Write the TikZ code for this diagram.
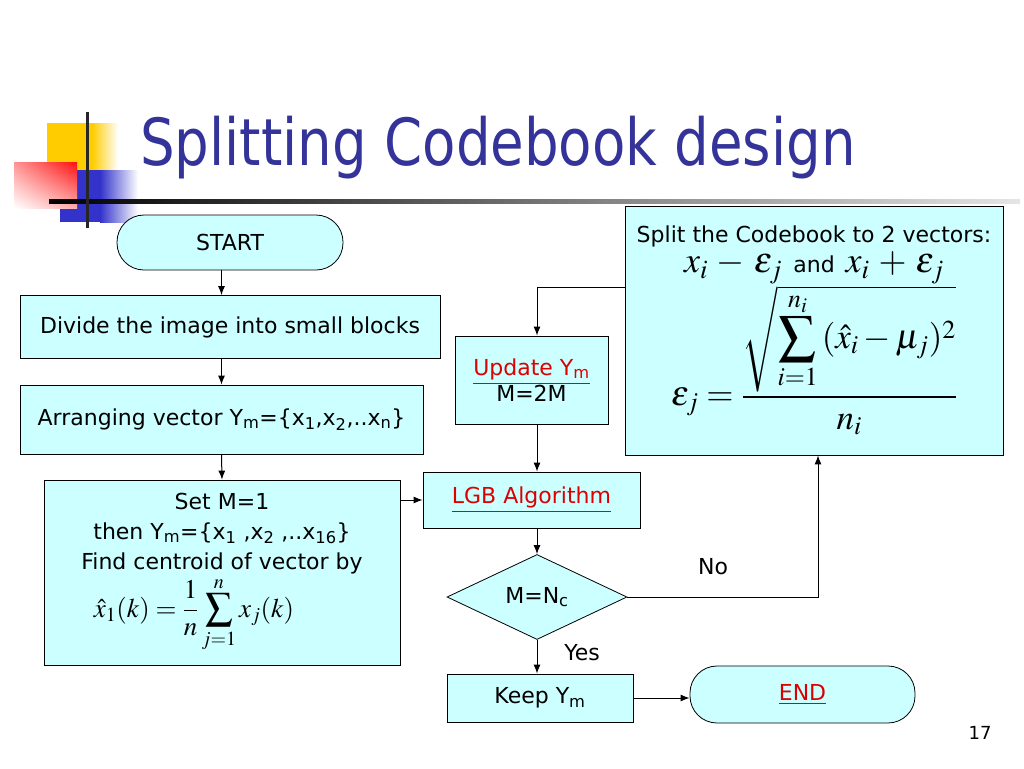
\documentclass[tikz,border=0pt]{standalone}
\usepackage{amsmath}
\usepackage{mathptmx}
\usepackage[no-math]{fontspec}
\setmainfont{DejaVu Sans}
\newfontfamily\titlefont{DejaVu Sans}[FakeStretch=0.84]
\usepackage{tikz}
\usetikzlibrary{arrows.meta, shapes.geometric, shadings}

\definecolor{boxcyan}{HTML}{CCFFFF}
\definecolor{titleblue}{HTML}{333399}
\definecolor{linkred}{HTML}{DD0000}
\definecolor{ornyellow}{HTML}{FFCC00}
\definecolor{ornblue}{HTML}{3333CC}
\definecolor{ornred}{HTML}{FF1010}
\newcommand{\bodysize}{\fontsize{22}{30}\selectfont}
\newcommand{\sub}[1]{\textsubscript{#1}}
\newcommand{\link}[1]{\textcolor{linkred}{\underline{#1}}}
\newcommand{\bigsum}{\mathop{\text{\fontsize{37}{40}\selectfont$\displaystyle\sum$}}\limits}

\begin{document}
\begin{tikzpicture}[
    x = 1pt, y = -1pt,
    flow/.style = {line width=1pt, -{Latex[length=9pt, width=7pt]}},
    block/.style = {draw, line width=0.8pt, fill=boxcyan, inner sep=2pt,
      font=\bodysize, align=center},
    terminal/.style = {block, rounded corners=27pt},
    decision/.style = {block, diamond, aspect=2.1, inner sep=0pt}
    ]
    \useasboundingbox (0,0) rectangle (1024,768);

    % corner ornament and title rule
    \fill[ornyellow] (47,123) rectangle (92,170);
    \shade[left color=ornyellow, right color=white] (92,123) rectangle (118,170);
    \fill[ornblue] (60,170) rectangle (100,222);
    \shade[left color=ornblue, right color=white] (100,170) rectangle (138,222);
    \shade[upper right=ornred, upper left=ornred!45, lower left=white,
      lower right=ornred!35] (14,162) rectangle (77,208);
    \shade[left color=black, right color=black!10] (49,199) rectangle (1020,203);
    \fill[black!85] (85.5,112) rectangle (88.5,228);

    \node[anchor=base west, inner sep=0, text=titleblue,
      font=\titlefont\fontsize{65}{70}\selectfont] (title) at (140,165)
      {Splitting Codebook design};

    % flow chart
    \node[terminal, minimum width=226, minimum height=55] (start) at (230,242.5) {START};
    \node[block, minimum width=420, minimum height=63] (divide) at (230,327)
      {Divide the image into small blocks};
    \node[block, minimum width=403, minimum height=69] (arrange) at (221.5,419.5)
      {Arranging vector Y\sub{m}=\{x\sub{1},x\sub{2},..x\sub{n}\}};
    \node[block, minimum width=356, minimum height=185] (setm) at (222,572.5)
      {Set M=1\\ then Y\sub{m}=\{x\sub{1} ,x\sub{2} ,..x\sub{16}\}\\
       Find centroid of vector by\\[2pt]
       \hspace*{-56pt}{\fontsize{27}{30}\selectfont
       $\displaystyle\hat{x}_1(k)=\frac{1}{n}\sum_{j=1}^{n}x_j(k)$}};
    \node[block, minimum width=217, minimum height=56] (lgb) at (531.5,500)
      {\link{LGB Algorithm}};
    \node[block, minimum width=153, minimum height=88] (update) at (531.5,380)
      {\link{Update Y\sub{m}}\\[-4pt] M=2M};
    \node[block, minimum width=378, minimum height=249] (split) at (814,330.5)
      {Split the Codebook to 2 vectors:\\
       {\fontsize{36}{38}\selectfont$x_i\,-\,\varepsilon_j$}\enspace and\enspace
       {\fontsize{36}{38}\selectfont$x_i\,+\,\varepsilon_j$}\\[1pt]
       {\fontsize{35}{38}\selectfont$\displaystyle\varepsilon_j=
        \frac{\sqrt{\bigsum_{i=1}^{n_i}\,(\hat{x}_i-\mu_j)^2}}{n_i}$}};
    \node[decision, minimum width=180, minimum height=85] (dec) at (537,597)
      {M=N\sub{c}};
    \node[block, minimum width=186, minimum height=48] (keep) at (540,698)
      {Keep Y\sub{m}};
    \node[terminal, minimum width=225, minimum height=57] (endn) at (802.5,694.5)
      {\link{END}};

    \node[font=\bodysize] (nolabel) at (713,567) {No};
    \node[font=\bodysize] (yeslabel) at (582,653) {Yes};
    \node[font=\fontsize{18}{20}\selectfont] (pagenum) at (980,733) {17};

    % connectors
    \draw[flow] (start.south -| arrange) -- (divide.north -| arrange);
    \draw[flow] (divide.south -| arrange) -- (arrange.north);
    \draw[flow] (arrange.south) -- (setm.north);
    \draw[flow] (setm.east |- lgb) -- (lgb.west);
    \draw[flow] ([yshift=43.5pt]split.west) -| (update.north -| dec);
    \draw[flow] (update.south -| dec) -- (lgb.north -| dec);
    \draw[flow] (lgb.south -| dec) -- (dec.north);
    \draw[flow] (dec.east) -| ([xshift=4pt]split.south);
    \draw[flow] (dec.south) -- (keep.north -| dec);
    \draw[flow] (keep.east) -- (keep.east -| endn.west);
\end{tikzpicture}
\end{document}
